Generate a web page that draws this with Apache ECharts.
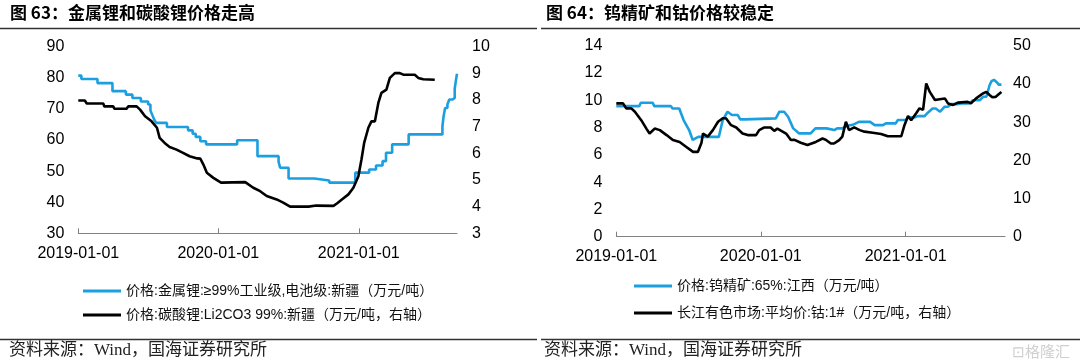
<!DOCTYPE html>
<html><head><meta charset="utf-8">
<script src="https://cdn.jsdelivr.net/npm/echarts@6/dist/echarts.min.js"></script>
<style>html,body{margin:0;padding:0;background:#fff}#c{width:1080px;height:364px}</style>
</head><body><div id="c"></div>
<script>
// ---------- data ----------
const xTickLabels = ['2019-01-01', '2020-01-01', '2021-01-01'];
const leftYTicks = [30, 90, 10];   // min, max, step
const leftY2Ticks = [3, 10, 1];
const rightYTicks = [0, 14, 2];
const rightY2Ticks = [0, 50, 10];

const nameLiMetal = '价格:金属锂:≥99%工业级,电池级:新疆（万元/吨）';
const nameLi2CO3 = '价格:碳酸锂:Li2CO3 99%:新疆（万元/吨，右轴）';
const nameTungsten = '价格:钨精矿:65%:江西（万元/吨）';
const nameCobalt = '长江有色市场:平均价:钴:1#（万元/吨，右轴）';

const liMetalDates = ['2019-01-01','2019-01-09','2019-02-20','2019-03-31','2019-05-05','2019-05-22','2019-06-13','2019-07-02','2019-07-08','2019-07-13','2019-07-18','2019-07-23','2019-08-20','2019-10-14','2019-10-26','2019-11-03','2019-11-15','2019-11-30','2020-02-19','2020-04-12','2020-06-06','2020-06-10','2020-07-02','2020-09-07','2020-10-16','2020-12-23','2021-01-28','2021-02-15','2021-03-04','2021-03-13','2021-03-29','2021-05-11','2021-08-07','2021-08-10','2021-08-14','2021-08-20','2021-08-25','2021-09-02','2021-09-08','2021-09-11','2021-09-14'];
const liMetal = [80.7,79.6,78.3,75.7,74.6,73.5,72.4,71.4,69.5,68.0,66.5,65.5,64.2,63.1,62.0,61.0,59.6,58.6,59.9,54.8,53.0,51.1,47.6,47.0,46.3,49.5,50.5,51.8,53.2,55.9,58.6,61.8,64.4,67.6,70.3,71.4,73.0,73.5,76.5,79.0,81.3];

const li2co3Dates = ['2019-01-01','2019-01-18','2019-01-23','2019-03-07','2019-03-10','2019-04-02','2019-04-05','2019-05-07','2019-05-11','2019-06-02','2019-06-11','2019-06-24','2019-07-11','2019-07-25','2019-08-01','2019-08-14','2019-08-27','2019-09-14','2019-10-01','2019-10-18','2019-11-07','2019-11-15','2019-11-23','2019-12-02','2019-12-19','2020-01-08','2020-03-11','2020-04-01','2020-04-19','2020-05-06','2020-06-01','2020-06-18','2020-07-06','2020-08-23','2020-09-12','2020-10-27','2020-11-05','2020-11-18','2020-12-05','2020-12-18','2020-12-31','2021-01-08','2021-01-15','2021-01-26','2021-02-03','2021-02-12','2021-02-21','2021-03-01','2021-03-14','2021-03-23','2021-04-05','2021-04-18','2021-04-27','2021-05-27','2021-06-05','2021-06-18','2021-07-18'];
const li2co3 = [7.98,7.98,7.87,7.87,7.76,7.76,7.67,7.67,7.76,7.76,7.64,7.39,7.20,6.96,6.58,6.39,6.24,6.14,6.02,5.89,5.81,5.80,5.58,5.27,5.08,4.90,4.92,4.71,4.58,4.40,4.27,4.15,4.00,4.00,4.04,4.03,4.12,4.27,4.46,4.71,5.14,5.77,6.39,6.96,7.20,7.20,7.89,8.27,8.39,8.83,9.01,9.01,8.95,8.95,8.83,8.78,8.76];

const tungstenDates = ['2019-01-01','2019-02-28','2019-03-04','2019-04-03','2019-04-07','2019-05-19','2019-05-23','2019-06-09','2019-06-20','2019-07-04','2019-07-13','2019-07-18','2019-07-27','2019-09-17','2019-09-27','2019-10-09','2019-10-14','2019-10-20','2019-11-04','2019-11-10','2019-11-22','2019-11-26','2020-02-08','2020-02-17','2020-02-29','2020-03-10','2020-03-23','2020-04-07','2020-05-06','2020-05-18','2020-06-15','2020-06-20','2020-07-05','2020-07-12','2020-07-26','2020-08-04','2020-08-20','2020-09-05','2020-10-03','2020-10-15','2020-11-05','2020-11-12','2020-12-07','2020-12-12','2021-01-02','2021-01-07','2021-01-24','2021-02-01','2021-02-18','2021-02-26','2021-03-10','2021-03-18','2021-03-29','2021-04-09','2021-04-18','2021-04-26','2021-05-13','2021-05-22','2021-06-11','2021-06-20','2021-07-07','2021-07-16','2021-07-24','2021-08-01','2021-08-06','2021-08-12','2021-08-20','2021-08-24','2021-08-31'];
const tungsten = [9.57,9.57,9.82,9.82,9.57,9.57,9.40,9.40,8.55,7.82,7.09,7.20,7.32,7.32,8.55,9.16,9.04,8.92,8.92,8.60,8.60,8.67,8.67,9.16,9.16,8.79,7.94,7.57,7.57,7.94,7.94,7.82,7.82,7.94,7.94,8.11,8.20,8.42,8.42,8.18,8.18,8.31,8.31,8.55,8.55,8.75,8.75,8.84,8.84,9.09,9.40,9.40,9.16,9.52,9.52,9.72,9.72,9.77,9.77,10.0,10.0,10.26,10.26,11.1,11.4,11.5,11.3,11.15,11.15];

const cobaltDates = ['2019-01-01','2019-01-18','2019-01-26','2019-02-08','2019-02-17','2019-03-05','2019-03-18','2019-03-26','2019-04-08','2019-04-21','2019-05-08','2019-05-24','2019-06-10','2019-06-27','2019-07-14','2019-07-26','2019-08-04','2019-08-08','2019-08-20','2019-09-02','2019-09-15','2019-09-27','2019-10-05','2019-10-18','2019-10-31','2019-11-16','2019-11-29','2019-12-20','2019-12-28','2020-01-10','2020-01-26','2020-02-04','2020-02-12','2020-03-05','2020-03-17','2020-03-25','2020-04-11','2020-04-28','2020-05-19','2020-06-05','2020-06-13','2020-06-26','2020-07-04','2020-07-17','2020-07-25','2020-08-03','2020-08-11','2020-08-24','2020-09-07','2020-09-12','2020-09-19','2020-10-10','2020-10-31','2020-11-17','2020-12-21','2020-12-29','2021-01-07','2021-01-15','2021-01-28','2021-02-05','2021-02-14','2021-02-22','2021-03-03','2021-03-16','2021-03-28','2021-04-10','2021-04-18','2021-05-01','2021-05-13','2021-06-07','2021-06-15','2021-06-28','2021-07-15','2021-07-24','2021-08-01','2021-08-08','2021-08-16','2021-08-24','2021-08-31'];
const cobalt = [34.9,34.9,33.6,33.6,32.7,30.5,28.3,27.0,28.3,27.9,26.6,25.3,24.8,23.5,22.2,22.2,24.5,27.0,26.2,27.9,30.1,31.0,31.0,29.2,28.6,27.0,26.6,26.6,27.9,28.6,28.6,27.7,28.3,27.0,25.3,25.4,24.6,24.0,24.8,25.7,25.4,24.4,24.4,25.3,26.2,30.1,27.9,28.6,27.9,28.3,27.5,27.2,26.9,26.3,26.3,29.2,31.6,30.5,32.4,33.6,33.2,40.1,37.9,35.8,36.0,36.2,34.9,34.5,35.1,35.3,34.9,36.2,37.5,37.9,37.1,36.5,36.6,37.3,37.9];

// ---------- helpers ----------
function ts(s){const p=s.split('-').map(Number);return Date.UTC(p[0],p[1]-1,p[2]);}
function pairs(d,v){return d.map((s,i)=>[ts(s),v[i]]);}
function fmt(t){const d=new Date(t);const p=n=>String(n).padStart(2,'0');return d.getUTCFullYear()+'-'+p(d.getUTCMonth()+1)+'-'+p(d.getUTCDate());}
const tickVals = xTickLabels.map(ts);

const BLUE = '#1a9fe0', BLACK = '#000000', AX = '#808080';
const NUMFONT = '"Liberation Sans", Arial, sans-serif';
const CJK = '"Liberation Sans", "Noto Sans CJK SC", sans-serif';

function xAx(grid, maxDate){
  return {type:'value', gridIndex:grid, min:ts('2019-01-01'), max:ts(maxDate), scale:true,
    axisLine:{show:true, lineStyle:{color:AX, width:1}},
    axisTick:{show:true, inside:true, length:5, customValues:tickVals, lineStyle:{color:AX}},
    axisLabel:{customValues:tickVals, formatter:v=>fmt(v), fontSize:16, color:'#000', margin:12, fontFamily:NUMFONT},
    splitLine:{show:false}};
}
function yAx(grid, t, pos, margin){
  return {type:'value', gridIndex:grid, min:t[0], max:t[1], interval:t[2], position:pos,
    axisLine:{show:false}, axisTick:{show:false}, splitLine:{show:false},
    axisLabel:{fontSize:16, color:'#000', margin:margin, fontFamily:NUMFONT}};
}
function line(name, xi, yi, data, color, step){
  const s = {name, type:'line', xAxisIndex:xi, yAxisIndex:yi, data, showSymbol:false, symbol:'none',
    lineStyle:{color, width:2.6}, itemStyle:{color}, animation:false};
  if (step) s.step = step;
  return s;
}
function txt(x, y, text, size, weight, family, color){
  return {type:'text', left:x, top:y, style:{text, fontSize:size, fontWeight:weight||'normal', fontFamily:family, fill:color||'#000'}};
}
function hline(x1, x2, y, w, c){
  return {type:'line', shape:{x1, y1:y, x2, y2:y}, style:{stroke:c||'#333', lineWidth:w||1}};
}

const chart = echarts.init(document.getElementById('c'), null, {renderer:'canvas'});
chart.setOption({
  animation:false,
  backgroundColor:'#fff',
  grid:[
    {left:78.3, right:1080-457, top:46.7, height:186.6},
    {left:616.3, right:1080-1005, top:45.7, height:191}
  ],
  xAxis:[xAx(0,'2021-09-14'), xAx(1,'2021-09-09')],
  yAxis:[yAx(0,leftYTicks,'left',14), yAx(0,leftY2Ticks,'right',15), yAx(1,rightYTicks,'left',14), yAx(1,rightY2Ticks,'right',8)],
  legend:[
    {data:[nameLiMetal, nameLi2CO3], orient:'vertical', left:83, top:283, padding:0, itemWidth:38, itemHeight:3, itemGap:8, icon:'rect',
      textStyle:{fontSize:14, color:'#111', lineHeight:16, fontFamily:CJK}},
    {data:[nameTungsten, nameCobalt], orient:'vertical', left:634, top:278, padding:0, itemWidth:38, itemHeight:3, itemGap:11, icon:'rect',
      textStyle:{fontSize:14, color:'#111', lineHeight:16, fontFamily:CJK}}
  ],
  series:[
    line(nameLiMetal, 0, 0, pairs(liMetalDates, liMetal), BLUE, 'end'),
    line(nameLi2CO3, 0, 1, pairs(li2co3Dates, li2co3), BLACK),
    line(nameTungsten, 1, 2, pairs(tungstenDates, tungsten), BLUE),
    line(nameCobalt, 1, 3, pairs(cobaltDates, cobalt), BLACK)
  ],
  graphic:[
    txt(10, 4, '图 63：金属锂和碳酸锂价格走高', 17, 'bold', '"Noto Sans CJK SC", sans-serif'),
    txt(546, 4, '图 64：钨精矿和钴价格较稳定', 17, 'bold', '"Noto Sans CJK SC", sans-serif'),
    hline(0, 537, 28.5, 1.5, '#333'),
    hline(541, 1080, 28.5, 1.5, '#333'),
    hline(0, 537, 339.5, 1.5, '#333'),
    hline(541, 1080, 339.5, 1.5, '#333'),
    txt(9, 342, '资料来源：Wind，国海证券研究所', 17, 'normal', '"Liberation Serif", "Noto Sans CJK SC", serif', '#222'),
    txt(544, 342, '资料来源：Wind，国海证券研究所', 17, 'normal', '"Liberation Serif", "Noto Sans CJK SC", serif', '#222'),
    txt(1012, 344, '⊡格隆汇', 15, 'normal', '"Noto Sans CJK SC", sans-serif', '#d0d0d0')
  ]
});
</script></body></html>
